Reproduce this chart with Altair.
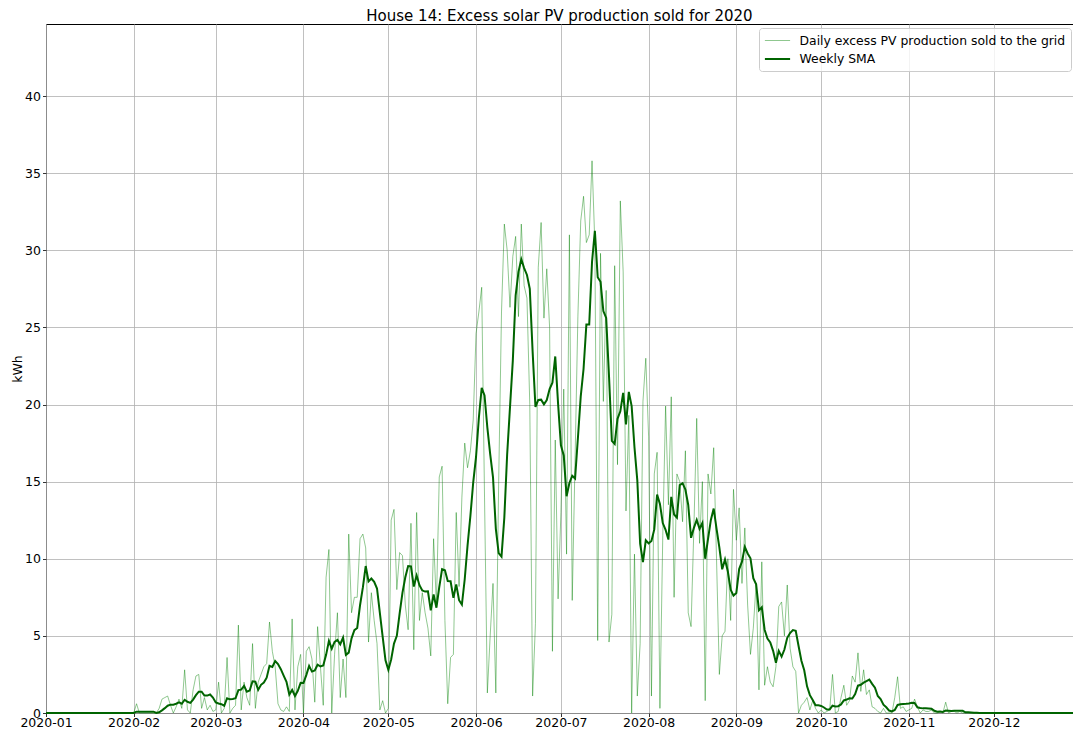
import altair as alt
import pandas as pd

title_text = "House 14: Excess solar PV production sold for 2020"
y_title = "kWh"
series_names = ["Daily excess PV production sold to the grid", "Weekly SMA"]
series_colors = ["#008000", "#006400"]
start_date = "2020-01-01"

# daily values (kWh), one per day
jan = [0.0] * 31
feb = [0.0, 0.6, 0.0, 0.0, 0.0, 0.0, 0.0, 0.0, 0.0, 0.3, 0.9, 1.0, 1.1, 0.5, 0.0,
       0.4, 0.9, 0.3, 2.8, 0.2, 0.0, 1.5, 2.4, 2.5, 0.3, 1.0, 0.2, 0.5, 0.1]
mar = [0.2, 2.0, 0.0, 0.3, 3.6, 0.0, 0.3, 0.5, 5.7, 0.2, 2.0, 1.0, 0.5, 4.5, 0.3,
       2.0, 2.5, 3.0, 3.2, 5.9, 4.0, 3.0, 0.6, 0.2, 0.1, 0.4, 0.1, 6.1, 0.2, 3.0, 3.8]
apr = [0.0, 4.0, 4.3, 3.5, 0.7, 5.6, 3.0, 0.5, 8.8, 10.6, 0.0, 3.8, 6.5, 1.0, 3.5,
       1.0, 11.6, 6.5, 7.5, 7.5, 11.3, 11.6, 10.7, 4.6, 7.8, 6.0, 4.5, 0.2, 0.8, 0.0]
may = [0.3, 12.5, 13.2, 8.0, 10.4, 10.2, 7.0, 5.4, 12.3, 4.1, 13.0, 6.0, 7.8, 6.5, 5.5,
       3.7, 11.3, 7.0, 15.3, 16.0, 6.0, 0.6, 3.6, 3.8, 13.0, 8.2, 14.0, 17.5, 15.9, 17.0, 19.0]
jun = [24.6, 26.0, 27.6, 14.0, 1.3, 5.0, 8.4, 1.3, 15.0, 26.0, 31.7, 30.0, 26.3, 29.6, 30.9,
       25.7, 31.7, 27.7, 26.9, 20.0, 1.1, 5.8, 28.9, 31.8, 25.6, 28.8, 25.0, 4.0, 17.7, 7.4]
jul = [13.0, 21.0, 10.3, 31.0, 7.3, 16.4, 25.7, 31.9, 33.5, 30.5, 31.0, 35.8, 30.4, 4.7, 29.8,
       20.2, 27.4, 4.6, 6.4, 29.0, 16.1, 33.2, 28.6, 13.1, 19.3, 0.0, 10.3, 1.1, 4.5, 20.2, 23.0]
aug = [17.9, 1.1, 15.5, 16.9, 0.3, 11.5, 19.9, 13.5, 20.5, 7.5, 15.5, 15.0, 12.4, 17.0, 6.5,
       5.6, 12.0, 19.1, 11.0, 15.0, 0.8, 15.5, 14.2, 17.2, 10.0, 2.5, 5.0, 5.3, 10.0, 6.0, 14.5]
sep = [11.2, 13.3, 8.4, 12.0, 7.0, 3.8, 5.5, 8.4, 1.5, 9.8, 1.8, 3.0, 2.0, 1.7, 3.0,
       6.9, 7.2, 5.0, 8.3, 4.2, 3.0, 2.7, 0.0, 0.5, 0.7, 1.0, 0.2, 0.8, 0.3, 0.0]
oct_ = [0.2, 0.0, 0.1, 0.2, 2.5, 0.0, 0.1, 1.0, 1.8, 0.5, 0.8, 2.4, 2.0, 3.9, 1.4,
        2.8, 1.2, 1.5, 0.4, 0.3, 0.1, 0.0, 0.3, 0.0, 0.0, 0.0, 1.0, 2.35, 0.3, 0.4, 0.1]
nov = [0.2, 0.3, 0.9, 0.4, 0.0, 0.2, 0.1, 0.1, 0.2, 0.0, 0.0, 0.1, 0.0, 0.7, 0.0,
       0.1, 0.1, 0.0, 0.1, 0.0, 0.0, 0.0, 0.0, 0.0, 0.0, 0.0, 0.0, 0.0, 0.0, 0.0]
dec = [0.0] * 29

daily = jan + feb + mar + apr + may + jun + jul + aug + sep + oct_ + nov + dec
dates = pd.date_range(start_date, periods=len(daily), freq="D")
df = pd.DataFrame({"date": dates.strftime("%Y-%m-%dT00:00:00"), "kwh": daily})

FONT = "DejaVu Sans"
PLOT_W, PLOT_H = 1027, 689

legend_def = alt.Legend(
    title=None, orient="none", legendX=713, legendY=4,
    fillColor="rgba(255,255,255,0.8)", strokeColor="#cccccc", cornerRadius=3, padding=5,
    labelFont=FONT, labelFontSize=12.4, labelColor="black", labelLimit=500,
    symbolType="M-1.8,0H1.8", symbolSize=196, symbolOffset=5.5, labelOffset=14, rowPadding=4,
)

color_enc = alt.Color("series:N", scale=alt.Scale(domain=series_names, range=series_colors), legend=legend_def)
width_enc = alt.StrokeWidth("series:N", scale=alt.Scale(domain=series_names, range=[0.8, 2.0]), legend=legend_def)
opac_enc = alt.Opacity("series:N", scale=alt.Scale(domain=series_names, range=[0.55, 1.0]), legend=legend_def)

x_enc = alt.X(
    "date:T",
    title=None,
    scale=alt.Scale(domain=[alt.DateTime(year=2020, month=1, date=1),
                            alt.DateTime(year=2020, month=12, date=29)], nice=False),
    axis=alt.Axis(format="%Y-%m",
                  values=[alt.DateTime(year=2020, month=m, date=1) for m in range(1, 13)],
                  labelFlush=False, labelOverlap=False, labelBound=False, labelPadding=0),
)
y_scale = alt.Scale(domain=[0, 44.67], nice=False, zero=True)
y_axis = alt.Axis(values=list(range(0, 45, 5)), titleX=-29, titleY=PLOT_H / 2,
                  titleAngle=-90, titleAlign="center", titleBaseline="middle")

base = alt.Chart(df)

daily_layer = base.transform_calculate(series="'" + series_names[0] + "'").mark_line(
    interpolate="linear"
).encode(
    x=x_enc,
    y=alt.Y("kwh:Q", title=y_title, scale=y_scale, axis=y_axis),
    color=color_enc, strokeWidth=width_enc, opacity=opac_enc,
)

sma_layer = base.transform_window(
    sma="mean(kwh)", frame=[-6, 0], sort=[alt.SortField("date")]
).transform_calculate(series="'" + series_names[1] + "'").mark_line(
    interpolate="linear"
).encode(
    x=x_enc,
    y=alt.Y("sma:Q", title=y_title, scale=y_scale, axis=y_axis),
    color=color_enc, strokeWidth=width_enc, opacity=opac_enc,
)

chart = alt.layer(daily_layer, sma_layer).properties(
    width=PLOT_W, height=PLOT_H,
    autosize=alt.AutoSizeParams(type="none"),
    padding={"left": 38, "top": 16, "right": 0, "bottom": 20},
    title=alt.TitleParams(text=title_text, font=FONT, fontSize=15, fontWeight="normal",
                          anchor="middle", offset=0, color="black"),
    background="white",
).configure_view(
    stroke="black", strokeWidth=1
).configure_axis(
    labelFont=FONT, labelFontSize=12.5, labelColor="black",
    titleFont=FONT, titleFontSize=12.5, titleColor="black", titleFontWeight="normal",
    domain=False, tickColor="black", tickSize=3.5, tickWidth=0.8, labelPadding=2,
    grid=True, gridColor="#b0b0b0", gridWidth=0.8,
)

chart.save("out.html", embed_options={"renderer": "svg", "actions": False})
